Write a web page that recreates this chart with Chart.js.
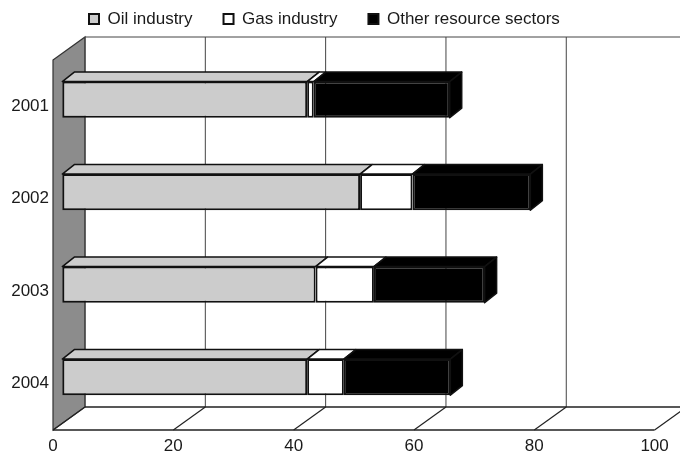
<!DOCTYPE html>
<html>
<head>
<meta charset="utf-8">
<script src="https://cdn.jsdelivr.net/npm/chart.js@4/dist/chart.umd.min.js"></script>
<style>
  html, body { margin: 0; padding: 0; background: #ffffff; }
  #wrap { width: 680px; height: 454px; position: relative; }
</style>
</head>
<body>
<div id="wrap"><canvas id="c"></canvas></div>
<script>
// ---- data ----
const years = ['2001', '2002', '2003', '2004'];
const oilIndustry = [40.7, 49.5, 42.1, 40.7];
const gasIndustry = [1.1, 8.7, 9.7, 6.1];
const otherSectors = [22.6, 19.6, 18.4, 17.7];
const seriesNames = ['Oil industry', 'Gas industry', 'Other resource sectors'];
const xTickStep = 20;
const xMin = 0;
const xMax = 100;

// ---- styles ----
const WALL_DX = 32, WALL_DY = 23;   // depth of walls/floor
const BAR_OX = 9.3, BAR_OY = 6.6;  // bar front plane offset into depth
const BAR_DX = 12, BAR_DY = 9.5;   // bar depth
const fills = ['#cccccc', '#ffffff', '#000000'];
const edge = '#111111';
const textColor = '#1a1a1a';

Chart.defaults.font.family = "'Liberation Sans', Arial, sans-serif";
Chart.defaults.font.size = 17;
Chart.defaults.color = textColor;

const depth3d = {
  id: 'depth3d',
  afterLayout(chart) {
    const lg = chart.legend;
    if (lg) { lg.left = 58; lg.top = -20.5; }
  },
  beforeDatasetsDraw(chart) {
    const { ctx, chartArea: a, scales: { x } } = chart;
    ctx.save();
    // side wall
    ctx.beginPath();
    ctx.moveTo(a.left, a.top);
    ctx.lineTo(a.left + WALL_DX, a.top - WALL_DY);
    ctx.lineTo(a.left + WALL_DX, a.bottom - WALL_DY);
    ctx.lineTo(a.left, a.bottom);
    ctx.closePath();
    ctx.fillStyle = '#8c8c8c';
    ctx.fill();
    ctx.lineWidth = 1.2;
    ctx.strokeStyle = '#333333';
    ctx.stroke();
    // back wall top line
    ctx.beginPath();
    ctx.moveTo(a.left + WALL_DX, a.top - WALL_DY);
    ctx.lineTo(a.right + WALL_DX, a.top - WALL_DY);
    ctx.lineWidth = 1;
    ctx.strokeStyle = '#444444';
    ctx.stroke();
    // back gridlines and floor diagonals
    x.ticks.forEach(t => {
      const px = x.getPixelForValue(t.value);
      ctx.beginPath();
      ctx.moveTo(px + WALL_DX, a.top - WALL_DY);
      ctx.lineTo(px + WALL_DX, a.bottom - WALL_DY);
      ctx.lineWidth = 1;
      ctx.strokeStyle = '#444444';
      ctx.stroke();
      ctx.beginPath();
      ctx.moveTo(px, a.bottom);
      ctx.lineTo(px + WALL_DX, a.bottom - WALL_DY);
      ctx.lineWidth = 1.2;
      ctx.strokeStyle = '#222222';
      ctx.stroke();
    });
    // floor back and front edges
    ctx.beginPath();
    ctx.moveTo(a.left + WALL_DX, a.bottom - WALL_DY);
    ctx.lineTo(a.right + WALL_DX, a.bottom - WALL_DY);
    ctx.moveTo(a.left, a.bottom);
    ctx.lineTo(a.right, a.bottom);
    ctx.lineWidth = 1.3;
    ctx.strokeStyle = '#222222';
    ctx.stroke();
    ctx.restore();
    // shift bars into depth
    ctx.save();
    ctx.translate(BAR_OX, -BAR_OY);
  },
  afterDatasetsDraw(chart) {
    const { ctx } = chart;
    ctx.restore();
    ctx.save();
    ctx.translate(BAR_OX, -BAR_OY);
    ctx.lineJoin = 'round';
    const n = chart.data.datasets.length;
    for (let d = 0; d < n; d++) {
      const meta = chart.getDatasetMeta(d);
      meta.data.forEach(bar => {
        const p = bar.getProps(['x', 'y', 'base', 'height'], true);
        const x0 = Math.min(p.base, p.x), x1 = Math.max(p.base, p.x);
        const yT = p.y - p.height / 2, yB = p.y + p.height / 2;
        ctx.beginPath();
        ctx.moveTo(x0, yT);
        ctx.lineTo(x0 + BAR_DX, yT - BAR_DY);
        ctx.lineTo(x1 + BAR_DX, yT - BAR_DY);
        ctx.lineTo(x1, yT);
        ctx.closePath();
        ctx.fillStyle = fills[d];
        ctx.fill();
        ctx.lineWidth = 1.5;
        ctx.strokeStyle = edge;
        ctx.stroke();
        if (d === n - 1) {
          ctx.beginPath();
          ctx.moveTo(x1, yT);
          ctx.lineTo(x1 + BAR_DX, yT - BAR_DY);
          ctx.lineTo(x1 + BAR_DX, yB - BAR_DY);
          ctx.lineTo(x1, yB);
          ctx.closePath();
          ctx.fillStyle = fills[d];
          ctx.fill();
          ctx.stroke();
        }
      });
    }
    ctx.restore();
  }
};

const makeSet = (label, data, i) => ({
  label, data,
  backgroundColor: fills[i],
  borderColor: edge,
  borderWidth: 2,
  borderSkipped: false,
  barPercentage: 0.39,
  categoryPercentage: 1,
  clip: false
});

new Chart(document.getElementById('c'), {
  type: 'bar',
  data: {
    labels: years,
    datasets: [
      makeSet(seriesNames[0], oilIndustry, 0),
      makeSet(seriesNames[1], gasIndustry, 1),
      makeSet(seriesNames[2], otherSectors, 2)
    ]
  },
  options: {
    indexAxis: 'y',
    responsive: true,
    maintainAspectRatio: false,
    animation: false,
    events: [],
    layout: { padding: 0 },
    plugins: {
      tooltip: { enabled: false },
      legend: {
        position: 'top',
        align: 'start',
        labels: {
          boxWidth: 10,
          boxHeight: 10,
          padding: 31,
          font: { size: 17 },
          color: textColor
        }
      }
    },
    scales: {
      x: {
        stacked: true,
        min: xMin,
        max: xMax,
        ticks: { stepSize: xTickStep, padding: 6, font: { size: 17 }, color: textColor },
        grid: { display: false, drawTicks: false },
        border: { display: false },
        afterFit(s) { s.height = 24; s.paddingRight = 25.4; }
      },
      y: {
        stacked: true,
        offset: true,
        ticks: { padding: 4, font: { size: 17 }, color: textColor },
        grid: { display: false, drawTicks: false },
        border: { display: false },
        afterFit(s) { s.width = 53; s.paddingTop = 60; }
      }
    }
  },
  plugins: [depth3d]
});
</script>
</body>
</html>
